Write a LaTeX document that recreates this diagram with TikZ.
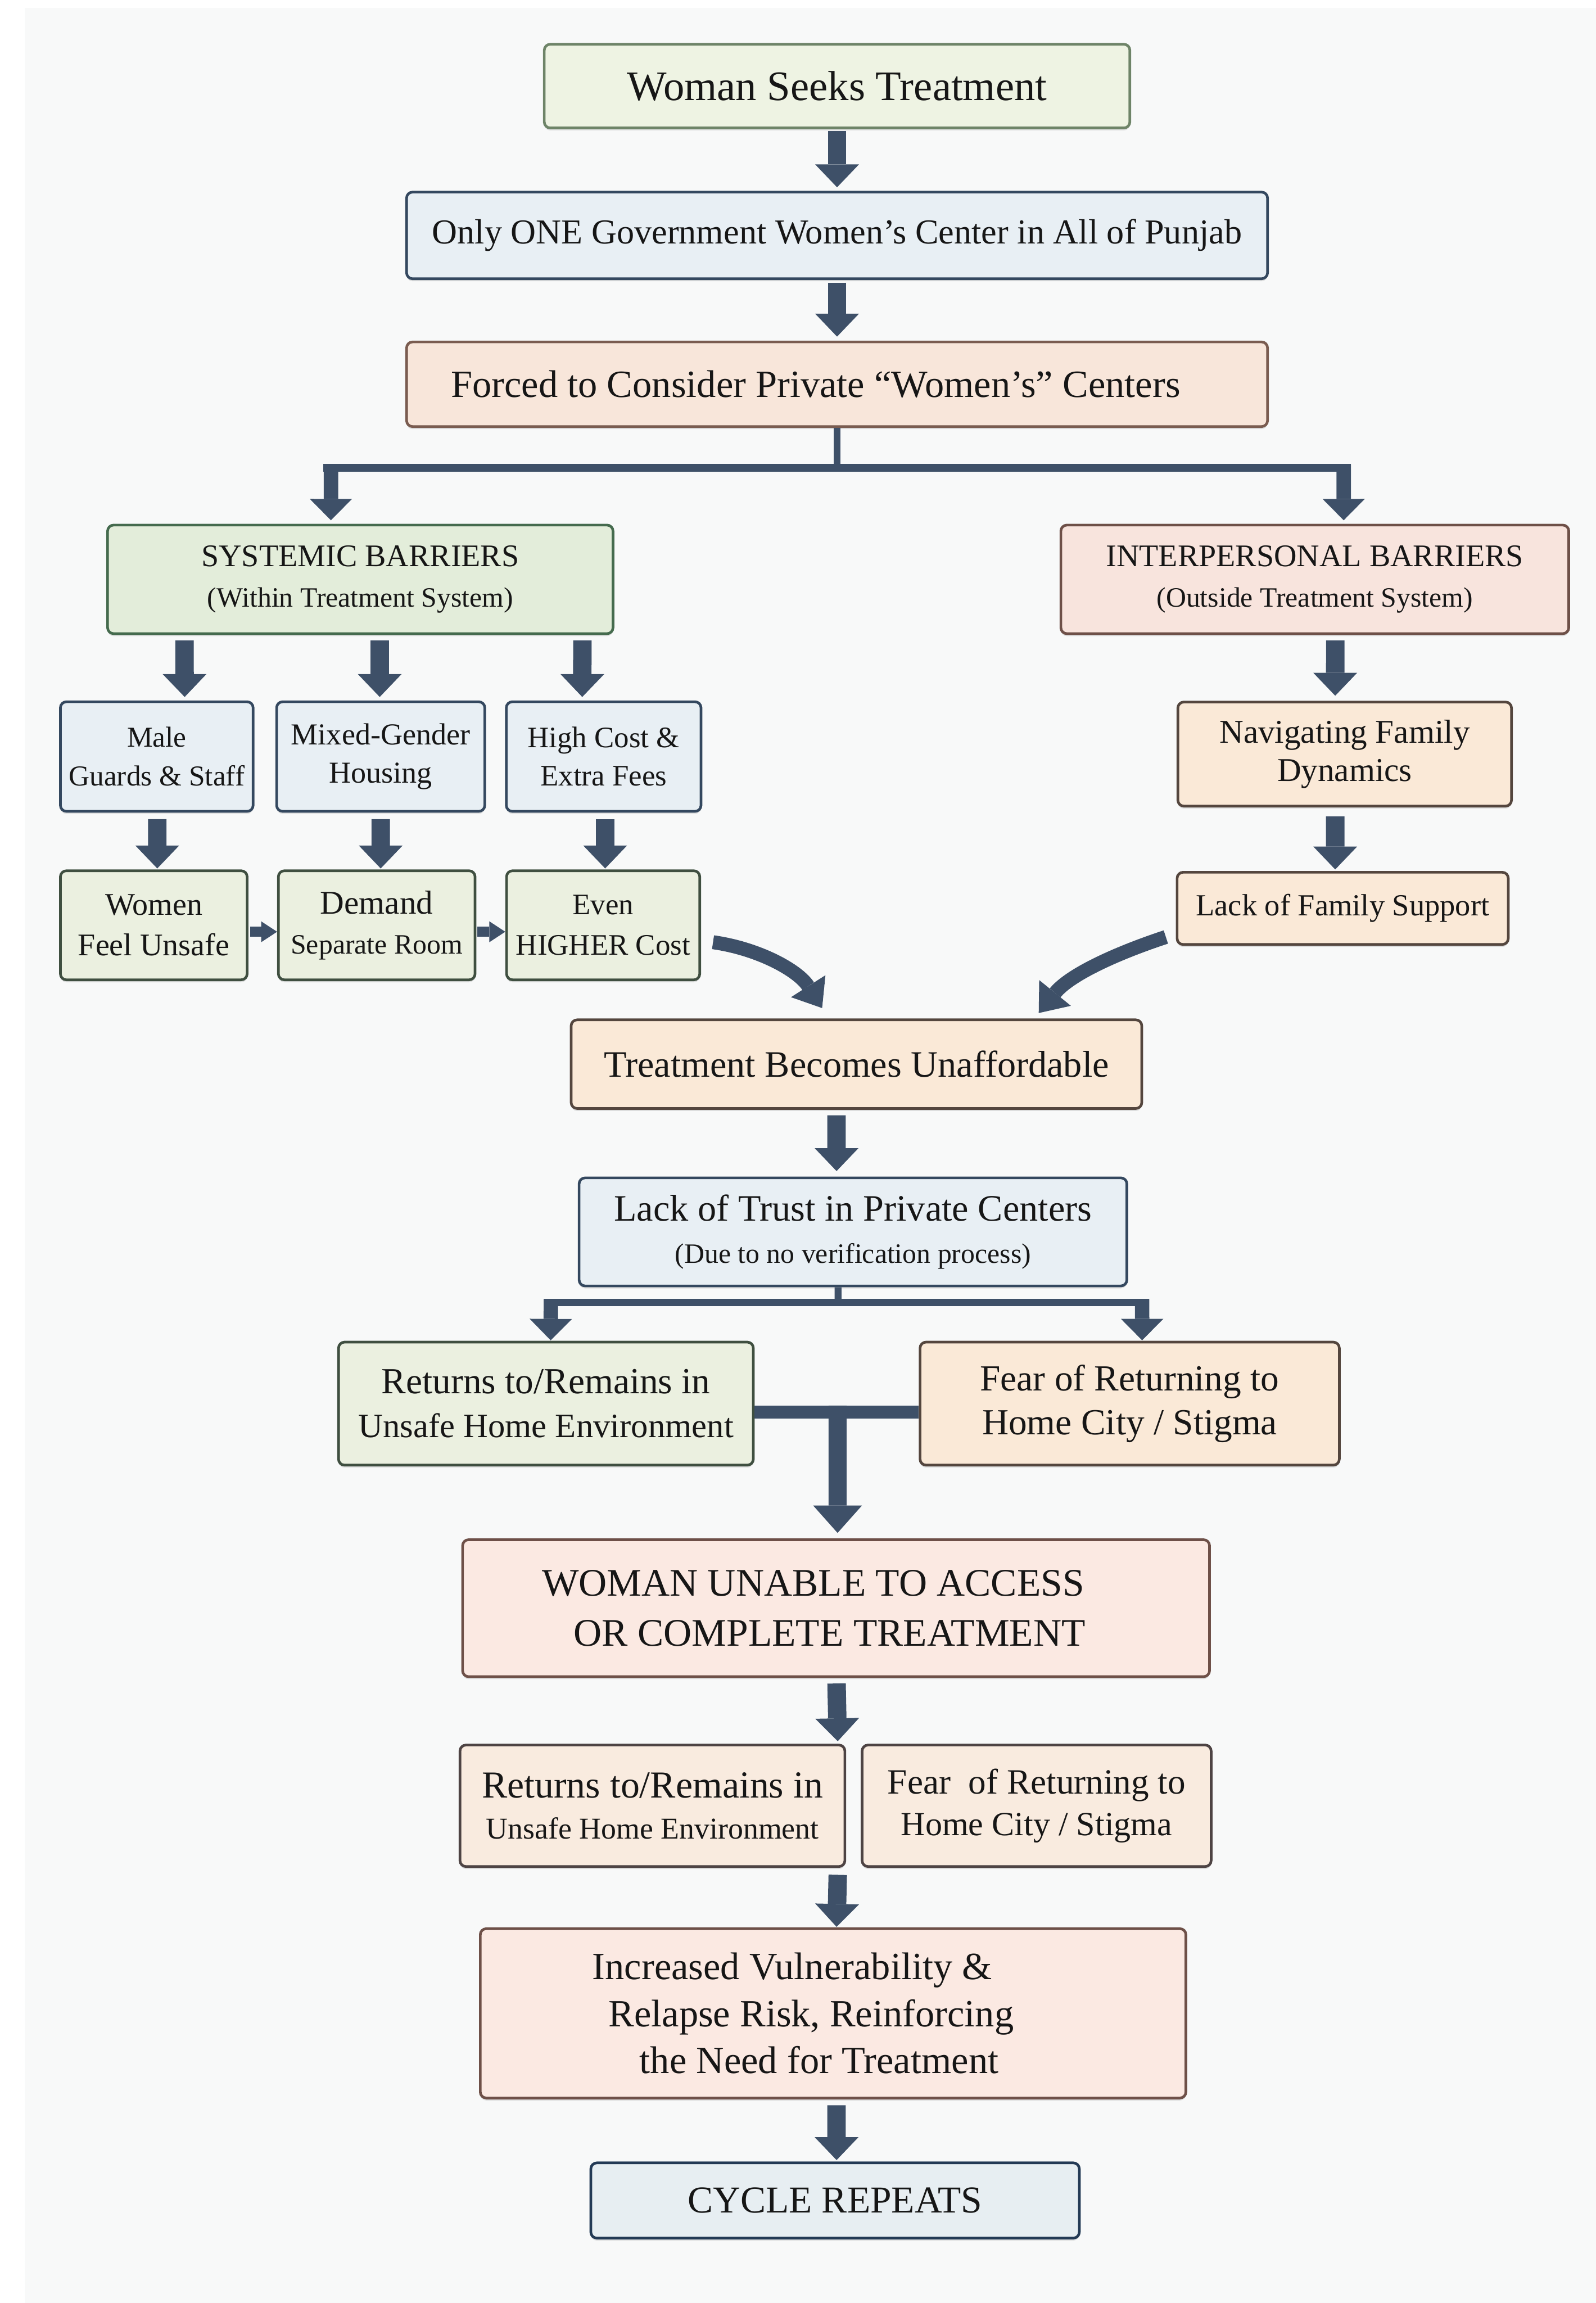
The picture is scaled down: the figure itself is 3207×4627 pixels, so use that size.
\documentclass[tikz,border=0pt]{standalone}
\usepackage{fontspec}
\setmainfont{Liberation Serif}
\usetikzlibrary{arrows.meta,shadows}
\newcommand\myfs[2]{\fontsize{#1}{#2}\selectfont}

\definecolor{bg}{HTML}{F8F9F9}
\definecolor{arr}{HTML}{3E5068}
\definecolor{txt}{HTML}{161616}
\definecolor{gFill}{HTML}{EEF3E3}
\definecolor{gDraw}{HTML}{6E8468}
\definecolor{bFill}{HTML}{E8EFF4}
\definecolor{bDraw}{HTML}{34485F}
\definecolor{pFill}{HTML}{F8E6DA}
\definecolor{pDraw}{HTML}{7A5C50}
\definecolor{sgFill}{HTML}{E3EDDA}
\definecolor{sgDraw}{HTML}{456B4E}
\definecolor{rFill}{HTML}{F8E4DD}
\definecolor{rDraw}{HTML}{6E5048}
\definecolor{cgFill}{HTML}{EBF0E0}
\definecolor{cgDraw}{HTML}{3F4F40}
\definecolor{oFill}{HTML}{FAE9D7}
\definecolor{oDraw}{HTML}{54463E}
\definecolor{kFill}{HTML}{F9EBDF}
\definecolor{kDraw}{HTML}{4E4444}
\definecolor{uFill}{HTML}{FBE9E2}
\definecolor{cyFill}{HTML}{E7EEF2}
\definecolor{cyDraw}{HTML}{233A55}

\tikzset{
  box/.style={rounded corners=0.12cm, line width=1.5pt, align=center,
    inner sep=0pt, text=txt,
    drop shadow={shadow xshift=0cm, shadow yshift=-0.05cm, opacity=0.22}},
  flow/.style={draw=arr, line width=0.37cm,
    -{Triangle[width=0.88cm,length=0.46cm,line width=0pt]}},
  flowb/.style={draw=arr, line width=0.29cm,
    -{Triangle[width=0.85cm,length=0.43cm,line width=0pt]}},
  flowbig/.style={draw=arr, line width=0.36cm,
    -{Triangle[width=0.98cm,length=0.55cm,line width=0pt]}},
  flowsmall/.style={draw=arr, line width=0.20cm,
    -{Triangle[width=0.42cm,length=0.32cm,line width=0pt]}},
  flowcurve/.style={draw=arr, line width=0.28cm,
    -{Triangle[width=0.82cm,length=0.52cm,line width=0pt]}},
  stem/.style={draw=arr, line width=0.14cm},
  barline/.style={draw=arr, line width=0.15cm},
  barthick/.style={draw=arr, line width=0.26cm},
}

\begin{document}
\begin{tikzpicture}[x=0.01cm, y=-0.01cm]
\useasboundingbox (0,0) rectangle (3207,4627);
\fill[white] (0,0) rectangle (3207,4627);
\fill[bg] (50,16) rectangle (3207,4627);

% ---------------- nodes ----------------
\node[box, fill=gFill, draw=gDraw, minimum width=11.76cm, minimum height=1.68cm,
  font={\myfs{24}{28}}] (seek) at (1682,173) {Woman Seeks Treatment};
\node[box, fill=bFill, draw=bDraw, minimum width=17.29cm, minimum height=1.74cm,
  font={\myfs{20}{24}}] (only) at (1682,473) {Only ONE Government Women’s Center in All of Punjab};
\node[box, fill=pFill, draw=pDraw, minimum width=17.29cm, minimum height=1.70cm,
  font={\myfs{22}{26}}] (forced) at (1682,772) {\hbox{Forced to Consider Private “Women’s” Centers\kern0.86cm}};

\node[box, fill=sgFill, draw=sgDraw, minimum width=10.15cm, minimum height=2.18cm,
  font={\myfs{18}{23}}] (sys) at (724,1164) {SYSTEMIC BARRIERS\\\myfs{16}{23}(Within Treatment System)};
\node[box, fill=rFill, draw=rDraw, minimum width=10.20cm, minimum height=2.18cm,
  font={\myfs{18}{23}}] (inter) at (2642,1164) {INTERPERSONAL BARRIERS\\\myfs{16}{23}(Outside Treatment System)};

\node[box, fill=bFill, draw=bDraw, minimum width=3.87cm, minimum height=2.20cm,
  font={\myfs{16.5}{22}}] (male) at (315,1520) {Male\\Guards \& Staff};
\node[box, fill=bFill, draw=bDraw, minimum width=4.18cm, minimum height=2.20cm,
  font={\myfs{17.4}{22}}] (mixed) at (765,1520) {Mixed-Gender\\Housing};
\node[box, fill=bFill, draw=bDraw, minimum width=3.91cm, minimum height=2.20cm,
  font={\myfs{17}{22}}] (high) at (1213,1520) {High Cost \&\\Extra Fees};
\node[box, fill=oFill, draw=oDraw, minimum width=6.70cm, minimum height=2.09cm,
  font={\myfs{19}{22}}] (nav) at (2702,1515) {Navigating Family\\Dynamics};

\node[box, fill=cgFill, draw=cgDraw, minimum width=3.75cm, minimum height=2.19cm,
  font={\myfs{18}{23}}] (women) at (309,1859) {Women\\Feel Unsafe};
\node[box, fill=cgFill, draw=cgDraw, minimum width=3.95cm, minimum height=2.19cm,
  font={\myfs{19}{23}}] (demand) at (757,1859) {Demand\\\myfs{16}{23}Separate Room};
\node[box, fill=cgFill, draw=cgDraw, minimum width=3.88cm, minimum height=2.19cm,
  font={\myfs{17}{23}}] (even) at (1212,1859) {Even\\HIGHER Cost};
\node[box, fill=oFill, draw=oDraw, minimum width=6.65cm, minimum height=1.45cm,
  font={\myfs{17.5}{21}}] (lackfam) at (2698,1825) {Lack of Family Support};

\node[box, fill=oFill, draw=oDraw, minimum width=11.46cm, minimum height=1.78cm,
  font={\myfs{21.3}{25}}] (unaff) at (1721,2138) {Treatment Becomes Unaffordable};
\node[box, fill=bFill, draw=bDraw, minimum width=11.00cm, minimum height=2.17cm,
  font={\myfs{21.3}{24}}] (trust) at (1714,2475) {Lack of Trust in Private Centers\\\myfs{16}{24}(Due to no verification process)};

\node[box, fill=cgFill, draw=cgDraw, minimum width=8.33cm, minimum height=2.47cm,
  font={\myfs{21}{25}}] (ret1) at (1097,2820) {Returns to/Remains in\\\myfs{19.5}{25}Unsafe Home Environment};
\node[box, fill=oFill, draw=oDraw, minimum width=8.42cm, minimum height=2.47cm,
  font={\myfs{21}{25}}] (fear1) at (2270,2820) {Fear of Returning to\\Home City / Stigma};

\node[box, fill=uFill, draw=rDraw, minimum width=15.00cm, minimum height=2.75cm,
  font={\myfs{22.3}{28.5}}] (unable) at (1680,3231) {\hbox{WOMAN UNABLE TO ACCESS\kern0.92cm}\\\hbox{OR COMPLETE TREATMENT\kern0.26cm}};

\node[box, fill=kFill, draw=kDraw, minimum width=7.73cm, minimum height=2.44cm,
  font={\myfs{21.8}{23.6}}] (ret2) at (1311,3628) {Returns to/Remains in\\\myfs{17.3}{23.6}Unsafe Home Environment};
\node[box, fill=kFill, draw=kDraw, minimum width=7.01cm, minimum height=2.44cm,
  font={\myfs{20.3}{23.6}}] (fear2) at (2083,3628) {Fear\ \ of Returning to\\\myfs{19.3}{23.6}Home City / Stigma};

\node[box, fill=uFill, draw=rDraw, minimum width=14.17cm, minimum height=3.40cm,
  font={\myfs{22}{26.8}}] (incr) at (1674,4045) {\hbox{Increased Vulnerability \&\kern1.64cm}\\\hbox{Relapse Risk, Reinforcing\kern0.88cm}\\\hbox{the Need for Treatment\kern0.56cm}};
\node[box, fill=cyFill, draw=cyDraw, minimum width=9.81cm, minimum height=1.51cm,
  font={\myfs{21.7}{25}}] (cycle) at (1678,4421) {CYCLE REPEATS};

% ---------------- connectors ----------------
\draw[flow] ([yshift=-0.04cm]seek.south) -- ([yshift=0.07cm]only.north);
\draw[flow] ([yshift=-0.05cm]only.south) -- ([yshift=0.08cm]forced.north);

% top branch
\coordinate (tstem) at (1682,940);
\coordinate (tbarL) at (650,940);
\coordinate (tbarR) at (2715,940);
\coordinate (tbL) at (665,933);
\coordinate (tbR) at (2700,933);
\draw[stem] (forced.south) -- (tstem);
\draw[barline] (tbarL) -- (tbarR);
\draw[flowb] (tbL) -- ([xshift=-0.59cm,yshift=0.07cm]sys.north);
\draw[flowb] (tbR) -- ([xshift=0.58cm,yshift=0.07cm]inter.north);

% systemic column
\draw[flow] ([xshift=-3.53cm,yshift=-0.11cm]sys.south) -- ([xshift=0.56cm,yshift=0.07cm]male.north);
\draw[flow] ([xshift=0.39cm,yshift=-0.11cm]sys.south) -- ([xshift=-0.02cm,yshift=0.07cm]mixed.north);
\draw[flow] ([xshift=4.46cm,yshift=-0.11cm]sys.south) -- ([xshift=-0.43cm,yshift=0.07cm]high.north);

\draw[flow] ([xshift=0.01cm,yshift=-0.13cm]male.south) -- ([xshift=0.07cm,yshift=0.02cm]women.north);
\draw[flow] ([yshift=-0.13cm]mixed.south) -- ([xshift=0.08cm,yshift=0.02cm]demand.north);
\draw[flow] ([xshift=0.03cm,yshift=-0.13cm]high.south) -- ([xshift=0.04cm,yshift=0.02cm]even.north);

\draw[flowsmall] ([xshift=0.03cm,yshift=-0.13cm]women.east) -- ([yshift=-0.13cm]demand.west);
\draw[flowsmall] ([xshift=0.02cm,yshift=-0.13cm]demand.east) -- ([yshift=-0.13cm]even.west);

% interpersonal column
\draw[flow] ([xshift=0.41cm,yshift=-0.11cm]inter.south) -- ([xshift=-0.19cm,yshift=0.10cm]nav.north);
\draw[flow] ([xshift=-0.19cm,yshift=-0.18cm]nav.south) -- ([xshift=-0.15cm,yshift=0.03cm]lackfam.north);

% curved arrows
\draw[flowcurve] ([xshift=0.24cm,yshift=-0.34cm]even.east)
  .. controls (1525,1906) and (1604,1950) .. ([xshift=-0.69cm,yshift=0.21cm]unaff.north);
\draw[flowcurve] ([xshift=-0.20cm,yshift=-0.575cm]lackfam.west)
  .. controls (2244,1915) and (2150,1958) .. ([xshift=3.66cm,yshift=0.11cm]unaff.north);

% lower part
\draw[flow] ([xshift=-0.40cm,yshift=-0.11cm]unaff.south) -- ([xshift=-0.33cm,yshift=0.11cm]trust.north);

\coordinate (lstem) at (1684,2617);
\coordinate (lbarL) at (1093,2617);
\coordinate (lbarR) at (2309,2617);
\coordinate (lbL) at (1107,2610);
\coordinate (lbR) at (2295,2610);
\draw[stem] ([xshift=-0.30cm]trust.south) -- (lstem);
\draw[barline] (lbarL) -- (lbarR);
\draw[flowb] (lbL) -- ([xshift=0.095cm,yshift=0.01cm]ret1.north);
\draw[flowb] (lbR) -- ([xshift=0.25cm,yshift=0.01cm]fear1.north);

\coordinate (mtop) at (1683,2824);
\draw[barthick] ([yshift=-0.17cm]ret1.east) -- ([yshift=-0.17cm]fear1.west);
\draw[flowbig] (mtop) -- ([xshift=0.03cm,yshift=0.11cm]unable.north);

\draw[flow] ([xshift=0.01cm,yshift=-0.11cm]unable.south) -- ([xshift=-0.17cm,yshift=0.05cm]ret2.north east);
\draw[flow] ([xshift=-0.17cm,yshift=-0.14cm]ret2.south east) -- ([xshift=0.07cm,yshift=0.01cm]incr.north);
\draw[flow] ([xshift=0.07cm,yshift=-0.12cm]incr.south) -- ([xshift=0.03cm,yshift=0.03cm]cycle.north);
\end{tikzpicture}
\end{document}
